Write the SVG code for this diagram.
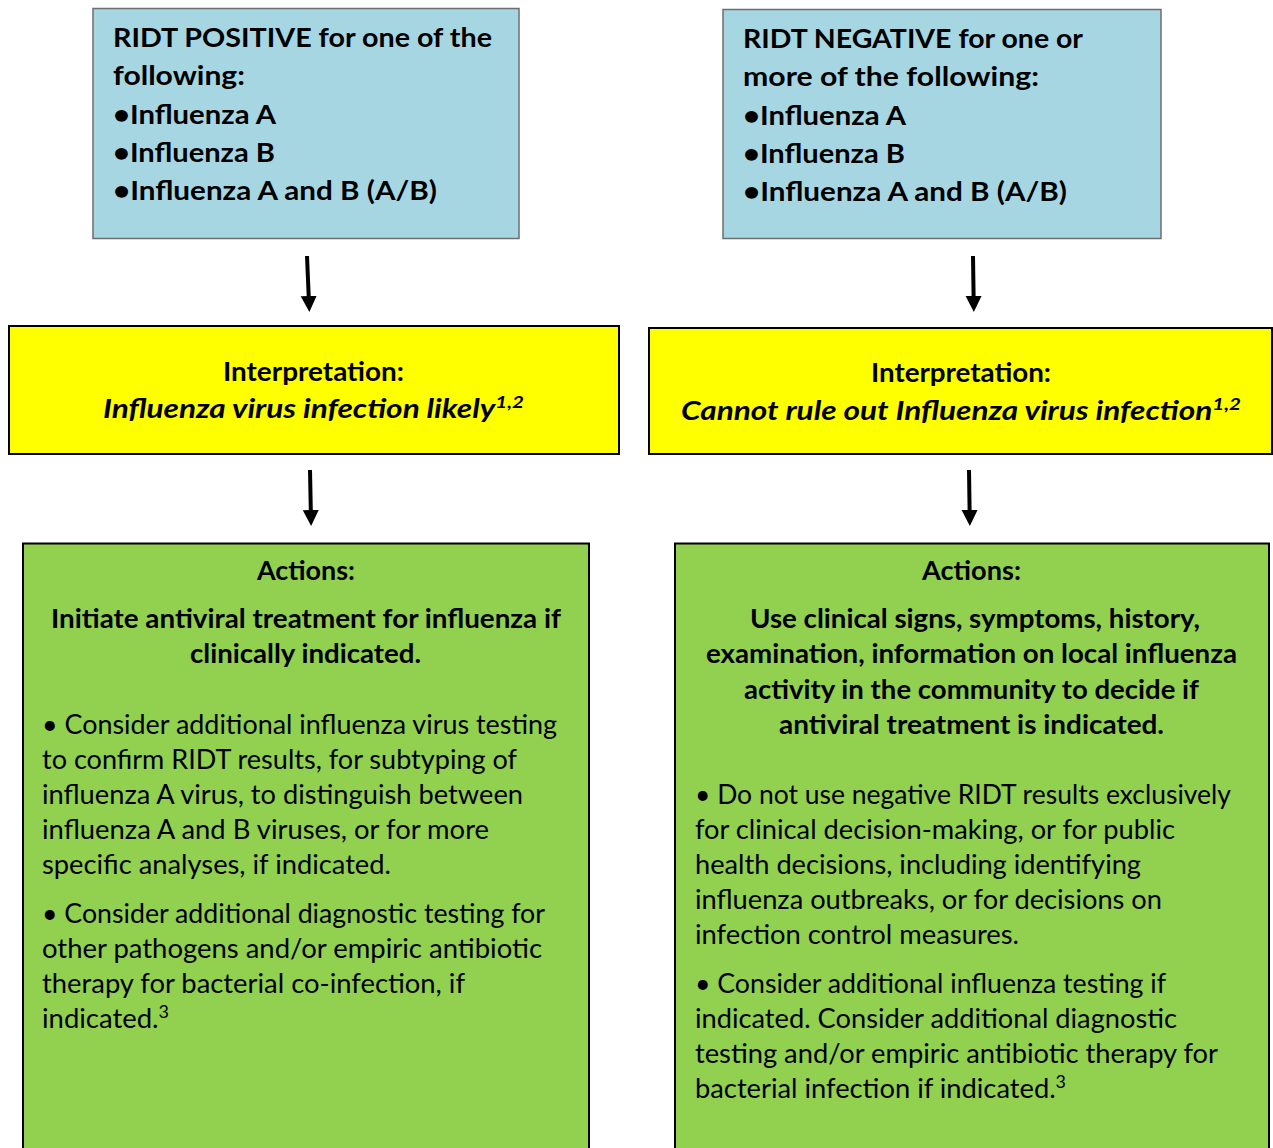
<svg xmlns="http://www.w3.org/2000/svg" width="1273" height="1148" viewBox="0 0 1273 1148">
<style>
text{font-family:Lato,"Open Sans","Liberation Sans",sans-serif;fill:#000;}
.b{font-weight:bold;font-size:26px;}
.r{font-size:26px;}
.i{font-style:italic;font-weight:bold;font-size:26px;}
.c{text-anchor:middle;}
.sup{font-size:17px;}
.blue{fill:#a7d6e3;stroke:#6e6e6e;stroke-width:1.5;}
.yel{fill:#ffff00;stroke:#000;stroke-width:2;}
.grn{fill:#92d050;stroke:#000;stroke-width:2;}
.arr{stroke:#000;stroke-width:4;fill:none;}
</style>
<defs>
<marker id="ah" markerUnits="userSpaceOnUse" markerWidth="18" markerHeight="18" refX="0" refY="8" orient="auto" viewBox="0 0 18 16">
<path d="M0,0 L16,8 L0,16 Z" fill="#000"/>
</marker>
</defs>
<rect width="1273" height="1148" fill="#fff"/>

<g id="connectors">
<path class="arr" d="M307,256 L308.7,296" marker-end="url(#ah)"/>
<path class="arr" d="M310,470 L310.8,510" marker-end="url(#ah)"/>
<path class="arr" d="M973,256 L973.6,296" marker-end="url(#ah)"/>
<path class="arr" d="M969,470 L969.6,510" marker-end="url(#ah)"/>
</g>

<g id="pos">
<rect class="blue" x="93" y="8.5" width="426" height="230"/>
<text class="b" x="113" y="47" textLength="379" lengthAdjust="spacingAndGlyphs">RIDT POSITIVE for one of the</text>
<text class="b" x="113" y="85" textLength="132" lengthAdjust="spacingAndGlyphs">following:</text>
<text class="b" x="113" y="124" textLength="163" lengthAdjust="spacingAndGlyphs">•Influenza A</text>
<text class="b" x="113" y="162" textLength="162" lengthAdjust="spacingAndGlyphs">•Influenza B</text>
<text class="b" x="113" y="200" textLength="324" lengthAdjust="spacingAndGlyphs">•Influenza A and B (A/B)</text>
</g>

<g id="neg">
<rect class="blue" x="723" y="9.5" width="438" height="229"/>
<text class="b" x="743" y="48" textLength="340" lengthAdjust="spacingAndGlyphs">RIDT NEGATIVE for one or</text>
<text class="b" x="743" y="86" textLength="296" lengthAdjust="spacingAndGlyphs">more of the following:</text>
<text class="b" x="743" y="125" textLength="163" lengthAdjust="spacingAndGlyphs">•Influenza A</text>
<text class="b" x="743" y="163" textLength="162" lengthAdjust="spacingAndGlyphs">•Influenza B</text>
<text class="b" x="743" y="201" textLength="324" lengthAdjust="spacingAndGlyphs">•Influenza A and B (A/B)</text>
</g>

<g id="interp-pos">
<rect class="yel" x="9" y="326" width="610" height="128"/>
<text class="b" x="223" y="381" textLength="181" lengthAdjust="spacingAndGlyphs">Interpretation:</text>
<text class="i" x="103" y="418" textLength="421" lengthAdjust="spacingAndGlyphs">Influenza virus infection likely<tspan class="sup" dy="-10">1,2</tspan></text>
</g>

<g id="interp-neg">
<rect class="yel" x="649" y="328" width="623" height="126"/>
<text class="b" x="871" y="382" textLength="180" lengthAdjust="spacingAndGlyphs">Interpretation:</text>
<text class="i" x="681" y="420" textLength="560" lengthAdjust="spacingAndGlyphs">Cannot rule out Influenza virus infection<tspan class="sup" dy="-10">1,2</tspan></text>
</g>

<g id="act-pos">
<rect class="grn" x="23" y="543.5" width="566" height="620"/>
<text class="b" x="257" y="580" textLength="98" lengthAdjust="spacingAndGlyphs">Actions:</text>
<text class="b" x="51" y="628" textLength="510" lengthAdjust="spacingAndGlyphs">Initiate antiviral treatment for influenza if</text>
<text class="b" x="190" y="663" textLength="231" lengthAdjust="spacingAndGlyphs">clinically indicated.</text>
<text class="r" x="42" y="734" textLength="515" lengthAdjust="spacingAndGlyphs">• Consider additional influenza virus testing</text>
<text class="r" x="42" y="769" textLength="475" lengthAdjust="spacingAndGlyphs">to confirm RIDT results, for subtyping of</text>
<text class="r" x="42" y="804" textLength="481" lengthAdjust="spacingAndGlyphs">influenza A virus, to distinguish between</text>
<text class="r" x="42" y="839" textLength="447" lengthAdjust="spacingAndGlyphs">influenza A and B viruses, or for more</text>
<text class="r" x="42" y="874" textLength="349" lengthAdjust="spacingAndGlyphs">specific analyses, if indicated.</text>
<text class="r" x="42" y="923" textLength="503" lengthAdjust="spacingAndGlyphs">• Consider additional diagnostic testing for</text>
<text class="r" x="42" y="958" textLength="500" lengthAdjust="spacingAndGlyphs">other pathogens and/or empiric antibiotic</text>
<text class="r" x="42" y="993" textLength="423" lengthAdjust="spacingAndGlyphs">therapy for bacterial co-infection, if</text>
<text class="r" x="42" y="1028" textLength="127" lengthAdjust="spacingAndGlyphs">indicated.<tspan class="sup" dy="-10">3</tspan></text>
</g>

<g id="act-neg">
<rect class="grn" x="675" y="543.5" width="594" height="620"/>
<text class="b" x="922" y="580" textLength="99" lengthAdjust="spacingAndGlyphs">Actions:</text>
<text class="b" x="750" y="628" textLength="450" lengthAdjust="spacingAndGlyphs">Use clinical signs, symptoms, history,</text>
<text class="b" x="706" y="663" textLength="531" lengthAdjust="spacingAndGlyphs">examination, information on local influenza</text>
<text class="b" x="744" y="699" textLength="455" lengthAdjust="spacingAndGlyphs">activity in the community to decide if</text>
<text class="b" x="779" y="734" textLength="385" lengthAdjust="spacingAndGlyphs">antiviral treatment is indicated.</text>
<text class="r" x="695" y="804" textLength="536" lengthAdjust="spacingAndGlyphs">• Do not use negative RIDT results exclusively</text>
<text class="r" x="695" y="839" textLength="480" lengthAdjust="spacingAndGlyphs">for clinical decision-making, or for public</text>
<text class="r" x="695" y="874" textLength="446" lengthAdjust="spacingAndGlyphs">health decisions, including identifying</text>
<text class="r" x="695" y="909" textLength="467" lengthAdjust="spacingAndGlyphs">influenza outbreaks, or for decisions on</text>
<text class="r" x="695" y="944" textLength="324" lengthAdjust="spacingAndGlyphs">infection control measures.</text>
<text class="r" x="695" y="993" textLength="471" lengthAdjust="spacingAndGlyphs">• Consider additional influenza testing if</text>
<text class="r" x="695" y="1028" textLength="482" lengthAdjust="spacingAndGlyphs">indicated. Consider additional diagnostic</text>
<text class="r" x="695" y="1063" textLength="523" lengthAdjust="spacingAndGlyphs">testing and/or empiric antibiotic therapy for</text>
<text class="r" x="695" y="1098" textLength="371" lengthAdjust="spacingAndGlyphs">bacterial infection if indicated.<tspan class="sup" dy="-10">3</tspan></text>
</g>
</svg>
